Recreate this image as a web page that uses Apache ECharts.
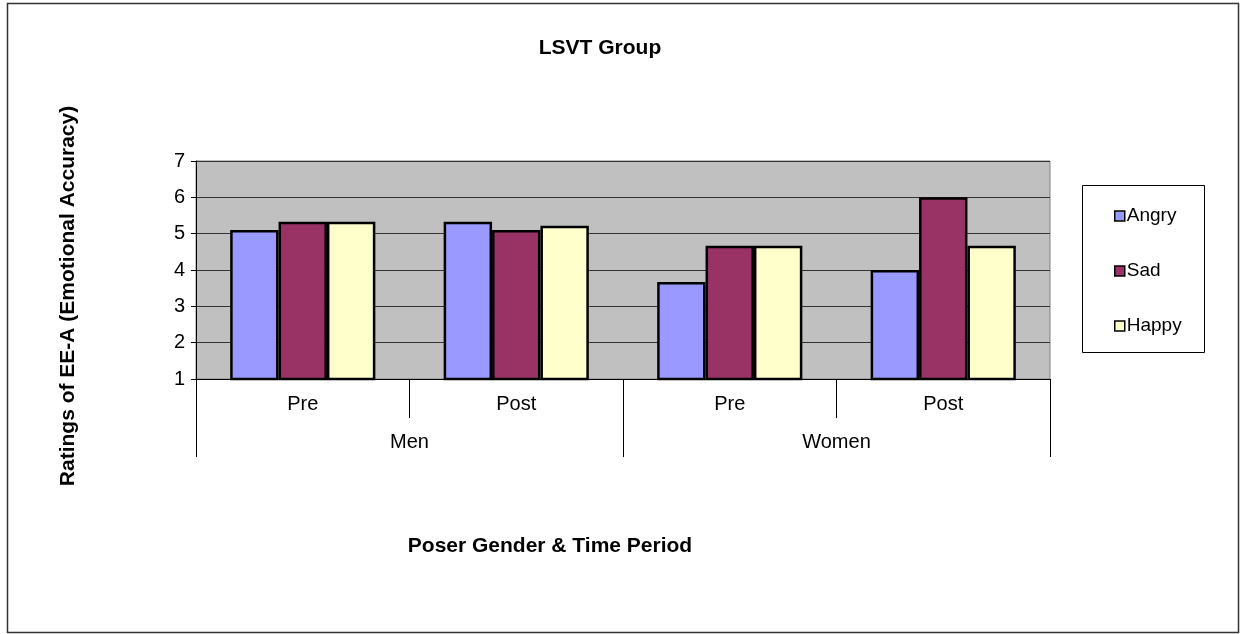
<!DOCTYPE html>
<html>
<head>
<meta charset="utf-8">
<script src="https://cdn.jsdelivr.net/npm/echarts@6/dist/echarts.min.js"></script>
<style>
  html, body { margin: 0; padding: 0; background: #fff; }
  #chart { width: 1243px; height: 634px; }
</style>
</head>
<body>
<div id="chart"></div>
<script>
// Ratings per time period, grouped by poser gender
const periods = ['Pre', 'Post', 'Pre', 'Post'];
const genders = ['Men', 'Women'];
const angry = [5.1, 5.33, 3.67, 4.0];
const sad = [5.33, 5.1, 4.67, 6.0];
const happy = [5.33, 5.22, 4.67, 4.67];
const yTicks = [1, 2, 3, 4, 5, 6, 7];

const FONT = '"Liberation Sans", Arial, sans-serif';
const chart = echarts.init(document.getElementById('chart'), null, { renderer: 'canvas' });

function barSeries(name, data, color) {
  return {
    name: name,
    type: 'bar',
    data: data,
    barGap: '0%',
    barCategoryGap: '32%',
    itemStyle: { color: color, borderColor: '#000', borderWidth: 2.5 }
  };
}

chart.setOption({
  animation: false,
  backgroundColor: '#fff',
  textStyle: { fontFamily: FONT },
  grid: {
    left: 196, right: 193, top: 161, bottom: 255,
    show: true, backgroundColor: '#c0c0c0', borderColor: '#808080', borderWidth: 1
  },
  xAxis: [
    {
      type: 'category',
      data: periods,
      position: 'bottom',
      axisLine: { show: true, lineStyle: { color: '#000', width: 1 } },
      axisTick: { show: true, interval: 0, length: 39, lineStyle: { color: '#000', width: 1 } },
      axisLabel: { color: '#000', fontSize: 20, margin: 15, fontFamily: FONT }
    },
    {
      type: 'category',
      data: genders,
      position: 'bottom',
      axisLine: { show: false },
      axisTick: { show: true, interval: 0, length: 78, lineStyle: { color: '#000', width: 1 } },
      axisLabel: { color: '#000', fontSize: 20, margin: 53, fontFamily: FONT }
    }
  ],
  yAxis: {
    type: 'value',
    min: yTicks[0],
    max: yTicks[yTicks.length - 1],
    interval: 1,
    axisLine: { show: true, lineStyle: { color: '#000' } },
    axisTick: { show: true, length: 5, lineStyle: { color: '#000' } },
    axisLabel: { color: '#000', fontSize: 20, margin: 11, fontFamily: FONT },
    splitLine: { lineStyle: { color: '#333', width: 1 } }
  },
  legend: {
    orient: 'vertical',
    left: 1114,
    top: 206,
    itemWidth: 10,
    itemHeight: 10,
    itemGap: 35,
    padding: 0,
    icon: 'rect',
    itemStyle: { borderWidth: 1.5, borderColor: '#000' },
    textStyle: { color: '#000', fontSize: 19, lineHeight: 20, fontFamily: FONT, padding: [0, 0, 0, -3] },
    data: ['Angry', 'Sad', 'Happy']
  },
  series: [
    barSeries('Angry', angry, '#9999ff'),
    barSeries('Sad', sad, '#993366'),
    barSeries('Happy', happy, '#ffffcc')
  ],
  graphic: [
    {
      type: 'rect', silent: true, z: -1,
      shape: { x: 7.5, y: 3.5, width: 1231, height: 629 },
      style: { fill: null, stroke: '#333', lineWidth: 1.5 }
    },
    {
      type: 'rect', silent: true,
      shape: { x: 1082.5, y: 185.5, width: 122, height: 167 },
      style: { fill: null, stroke: '#000', lineWidth: 1 }
    },
    {
      type: 'text', silent: true, x: 600, y: 48,
      style: { text: 'LSVT Group', font: 'bold 21px ' + FONT, fill: '#000', align: 'center', verticalAlign: 'middle' }
    },
    {
      type: 'text', silent: true, x: 68, y: 296, rotation: Math.PI / 2,
      style: { text: 'Ratings of EE-A (Emotional Accuracy)', font: 'bold 21px ' + FONT, fill: '#000', align: 'center', verticalAlign: 'middle' }
    },
    {
      type: 'text', silent: true, x: 550, y: 546,
      style: { text: 'Poser Gender & Time Period', font: 'bold 21px ' + FONT, fill: '#000', align: 'center', verticalAlign: 'middle' }
    }
  ]
});
</script>
</body>
</html>
